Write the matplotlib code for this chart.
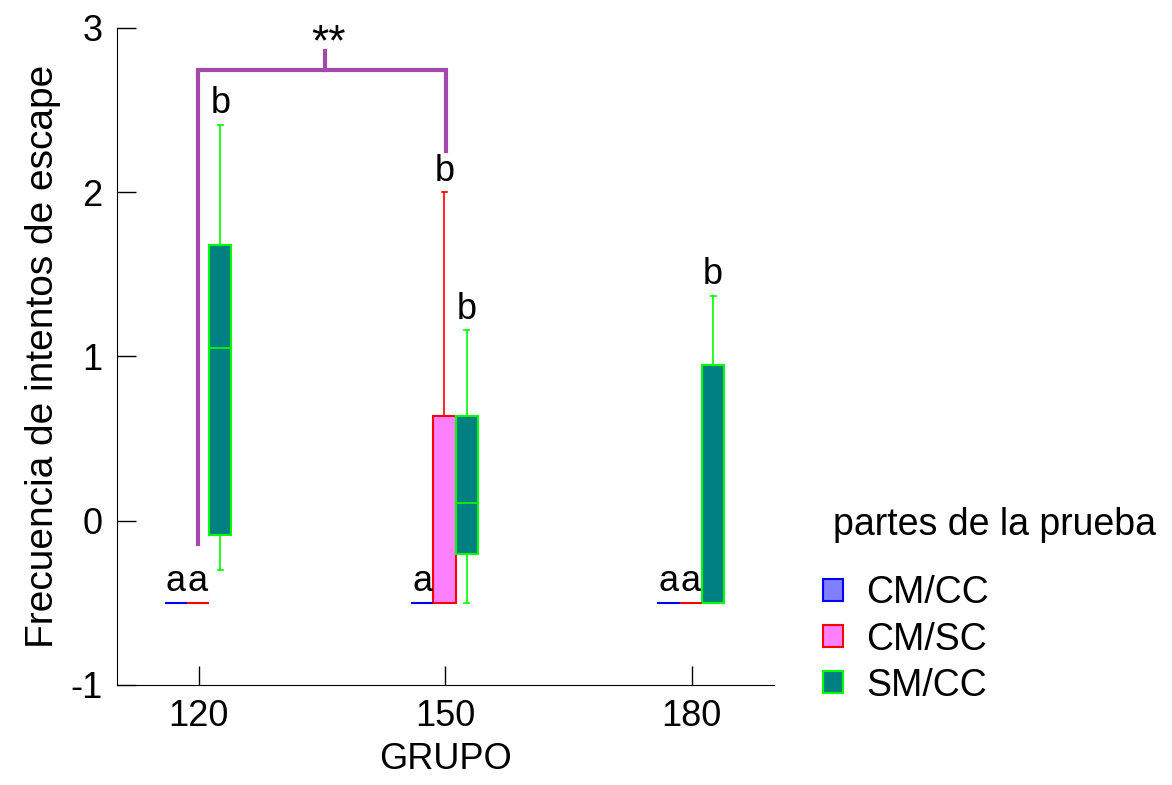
import matplotlib
matplotlib.use("Agg")
import matplotlib.pyplot as plt
from matplotlib.patches import Patch

plt.rcParams["font.family"] = ["Liberation Sans", "DejaVu Sans"]
plt.rcParams["axes.unicode_minus"] = False

# grupos y partes de la prueba
grupos = [120, 150, 180]
partes = ["CM/CC", "CM/SC", "SM/CC"]

# estadisticos de cada caja: [bigote inf, Q1, mediana, Q3, bigote sup]
cm_cc = [[-0.5, -0.5, -0.5, -0.5, -0.5],
         [-0.5, -0.5, -0.5, -0.5, -0.5],
         [-0.5, -0.5, -0.5, -0.5, -0.5]]
cm_sc = [[-0.5, -0.5, -0.5, -0.5, -0.5],
         [-0.5, -0.5, -0.5, 0.64, 2.0],
         [-0.5, -0.5, -0.5, -0.5, -0.5]]
sm_cc = [[-0.3, -0.09, 1.05, 1.68, 2.41],
         [-0.5, -0.2, 0.11, 0.64, 1.16],
         [-0.5, -0.5, -0.5, 0.95, 1.37]]

# letras de significancia
letras_cm_cc = ["a", "a", "a"]
letras_cm_sc = ["a", "b", "a"]
letras_sm_cc = ["b", "b", "b"]

series = [cm_cc, cm_sc, sm_cc]
letras = [letras_cm_cc, letras_cm_sc, letras_sm_cc]
relleno = ["#8080ff", "#ff80ff", "#008080"]
borde = ["#0000ff", "#ff0000", "#00ff00"]
desplaz = [-2.82, -0.12, 2.6]
ancho = 2.72

fig = plt.figure(figsize=(11.72, 7.85), dpi=100)
ax = fig.add_axes([0.0996, 0.1274, 0.5608, 0.8373])

for k in range(len(series)):
    stats = []
    for s in series[k]:
        stats.append({"whislo": s[0], "q1": s[1], "med": s[2], "q3": s[3],
                      "whishi": s[4], "fliers": []})
    pos = [g + desplaz[k] for g in grupos]
    ax.bxp(stats, positions=pos, widths=ancho, patch_artist=True,
           showfliers=False, capwidths=0.6, manage_ticks=False,
           boxprops=dict(facecolor=relleno[k], edgecolor=borde[k], linewidth=1.5),
           medianprops=dict(color=borde[k], linewidth=1.2),
           whiskerprops=dict(color=borde[k], linewidth=1.2),
           capprops=dict(color=borde[k], linewidth=1.2))
    for i in range(len(grupos)):
        ax.annotate(letras[k][i], (pos[i], series[k][i][4]), xytext=(0, 2.5),
                    textcoords="offset points", ha="center", va="bottom",
                    fontsize=26)

# corchete de comparacion 120 vs 150
morado = "#a349ac"
ax.plot([119.9, 119.9, 150.1, 150.1], [-0.14, 2.74, 2.74, 2.25],
        color=morado, linewidth=3, solid_joinstyle="miter")
ax.plot([135.4, 135.4], [2.74, 2.86], color=morado, linewidth=3)
ax.text(135.8, 2.9, "**", ha="center", va="center", fontsize=32)

ax.set_xlim(110, 190)
ax.set_ylim(-1, 3)
ax.set_xticks(grupos)
ax.set_yticks([-1, 0, 1, 2, 3])
ax.tick_params(direction="in", length=13.5, width=1, labelsize=26, pad=10)
for lado in ["top", "right"]:
    ax.spines[lado].set_visible(False)
ax.set_xlabel("GRUPO", fontsize=26, labelpad=6)
ax.set_ylabel("Frecuencia de intentos de escape", fontsize=28, labelpad=7)

fig.text(833 / 1172, 1 - 525 / 785, "partes de la prueba", fontsize=27,
         ha="left", va="center")
manijas = [Patch(facecolor=relleno[k], edgecolor=borde[k], linewidth=1.5)
           for k in range(len(partes))]
fig.legend(manijas, partes, loc="upper left", bbox_to_anchor=(0.702, 0.267),
           frameon=False, fontsize=27, handlelength=0.53, handleheight=0.53,
           handletextpad=0.64, labelspacing=0.27, borderpad=0,
           borderaxespad=0)

fig.savefig("out.png", dpi=100)
